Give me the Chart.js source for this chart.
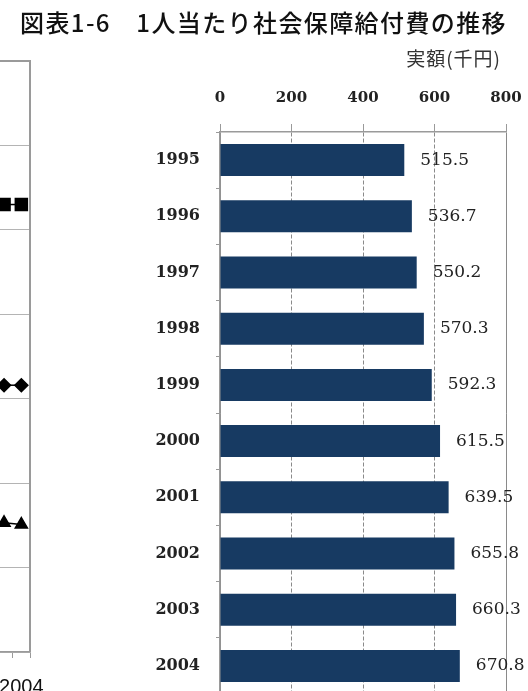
<!doctype html>
<html>

<head>
    <meta charset="utf-8">
    <title>1人当たり社会保障給付費の推移</title>
    <script src="https://cdn.jsdelivr.net/npm/chart.js"></script>
    <style>
        html,
        body {
            margin: 0;
            padding: 0;
            background: #ffffff;
            overflow: hidden;
            width: 528px;
            height: 691px;
        }

        .titulo {
            position: absolute;
            left: 20px;
            top: 7px;
            margin: 0;
            font-family: "Noto Sans CJK JP", sans-serif;
            font-size: 24px;
            font-weight: 500;
            line-height: 30px;
            letter-spacing: 1.4px;
            white-space: nowrap;
            color: #111111;
        }

        .unidade {
            position: absolute;
            right: 27px;
            top: 46px;
            margin: 0;
            font-family: "Noto Sans CJK JP", sans-serif;
            font-size: 19px;
            line-height: 24px;
            letter-spacing: 1px;
            color: #333333;
        }

        #graficoEsquerda {
            position: absolute;
            left: -143px;
            top: 0;
        }

        #graficoBarras {
            position: absolute;
            left: 0;
            top: 0;
        }
    </style>
</head>

<body>
    <canvas id="graficoEsquerda" width="213" height="700"></canvas>
    <canvas id="graficoBarras" width="528" height="700"></canvas>
    <h1 class="titulo">図表1-6　1人当たり社会保障給付費の推移</h1>
    <p class="unidade">実額(千円)</p>

    <script>
        // anos e valores (千円)
        var anos = ["1995", "1996", "1997", "1998", "1999", "2000", "2001", "2002", "2003", "2004"]
        var valores = [515.5, 536.7, 550.2, 570.3, 592.3, 615.5, 639.5, 655.8, 660.3, 670.8]
        var ticksX = [0, 200, 400, 600, 800]

        // grafico de linhas vizinho (so aparece a ponta direita)
        var serieQuadrado = [null, null, null, null, null, null, null, null, 106.0, 106.0]
        var serieLosango = [null, null, null, null, null, null, null, null, 63.2, 63.2]
        var serieTriangulo = [null, null, null, null, null, null, null, null, 30.6, 30.2]

        var cinza = '#9a9a9a'

        function semPadding(scale) {
            scale.paddingLeft = 0
            scale.paddingRight = 0
            scale.paddingTop = 0
            scale.paddingBottom = 0
        }

        // moldura da area do grafico (topo e lado direito)
        var moldura = {
            id: 'moldura',
            afterDraw(chart) {
                var a = chart.chartArea
                var ctx = chart.ctx
                ctx.save()
                ctx.strokeStyle = cinza
                ctx.lineWidth = 2
                ctx.beginPath()
                ctx.moveTo(a.left, a.top)
                ctx.lineTo(a.right, a.top)
                ctx.lineTo(a.right, a.bottom)
                ctx.stroke()
                ctx.restore()
            }
        }

        var graficoEsquerda = new Chart(document.getElementById('graficoEsquerda'), {
            type: 'line',
            data: {
                labels: anos,
                datasets: [{
                    data: serieQuadrado,
                    borderColor: '#000000',
                    backgroundColor: '#000000',
                    borderWidth: 1.5,
                    pointStyle: 'rect',
                    pointRadius: 8.5
                }, {
                    data: serieLosango,
                    borderColor: '#000000',
                    backgroundColor: '#000000',
                    borderWidth: 1.5,
                    pointStyle: 'rectRot',
                    pointRadius: 6.5
                }, {
                    data: serieTriangulo,
                    borderColor: '#000000',
                    backgroundColor: '#000000',
                    borderWidth: 1.5,
                    pointStyle: 'triangle',
                    pointRadius: 7
                }]
            },
            options: {
                responsive: false,
                animation: false,
                layout: {
                    autoPadding: false,
                    padding: { top: 61, bottom: 8, left: 0, right: 40 }
                },
                plugins: {
                    legend: { display: false },
                    tooltip: { enabled: false }
                },
                scales: {
                    x: {
                        offset: true,
                        grid: {
                            offset: true,
                            drawOnChartArea: false,
                            tickLength: 6,
                            tickColor: cinza
                        },
                        border: { color: cinza, width: 1.5 },
                        ticks: {
                            autoSkip: false,
                            maxRotation: 0,
                            padding: 17,
                            color: '#111111',
                            font: { family: 'Liberation Sans', size: 20 },
                            callback: function (v, i) {
                                return i % 3 === 0 ? anos[i] : ''
                            }
                        },
                        afterFit: function (scale) {
                            semPadding(scale)
                            scale.height = 40
                        }
                    },
                    y: {
                        min: 0,
                        max: 140,
                        ticks: { display: false, stepSize: 20 },
                        grid: { color: '#b4b4b4', lineWidth: 1, drawTicks: false },
                        border: { display: false },
                        afterFit: function (scale) {
                            semPadding(scale)
                            scale.width = 0
                        }
                    }
                }
            },
            plugins: [moldura]
        });

        // rotulo com o valor ao lado de cada barra
        var rotulosValor = {
            id: 'rotulosValor',
            afterDatasetsDraw(chart) {
                var ctx = chart.ctx
                var meta = chart.getDatasetMeta(0)
                ctx.save()
                ctx.font = '17px "DejaVu Serif"'
                ctx.fillStyle = '#222222'
                ctx.textAlign = 'left'
                ctx.textBaseline = 'middle'
                meta.data.forEach(function (barra, i) {
                    ctx.fillText(valores[i].toFixed(1), barra.x + 16, barra.y)
                })
                ctx.restore()
            }
        }

        var graficoBarras = new Chart(document.getElementById('graficoBarras'), {
            type: 'bar',
            data: {
                labels: anos,
                datasets: [{
                    label: '実額(千円)',
                    data: valores,
                    backgroundColor: '#173a62',
                    borderWidth: 0,
                    categoryPercentage: 1,
                    barPercentage: 0.57
                }]
            },
            options: {
                indexAxis: 'y',
                responsive: false,
                animation: false,
                layout: {
                    autoPadding: false,
                    padding: { top: 72, bottom: 6, left: 0, right: 22 }
                },
                plugins: {
                    legend: { display: false },
                    tooltip: { enabled: false }
                },
                scales: {
                    x: {
                        position: 'top',
                        min: 0,
                        max: 800,
                        afterBuildTicks: function (scale) {
                            scale.ticks = ticksX.map(function (v) { return { value: v } })
                        },
                        ticks: {
                            padding: 17,
                            color: '#222222',
                            font: { family: 'DejaVu Serif', size: 15, weight: 'bold' }
                        },
                        grid: {
                            color: '#8a8a8a',
                            lineWidth: 1,
                            tickLength: 8,
                            tickColor: cinza
                        },
                        border: {
                            color: cinza,
                            width: 1.5,
                            dash: function (ctx) {
                                if (ctx.tick && ctx.tick.value > 0 && ctx.tick.value < 800) return [4, 2]
                                return []
                            }
                        },
                        afterFit: function (scale) {
                            semPadding(scale)
                            scale.height = 60
                        }
                    },
                    y: {
                        grid: {
                            drawOnChartArea: false,
                            tickLength: 4,
                            tickColor: cinza
                        },
                        border: { color: cinza, width: 1.5 },
                        ticks: {
                            padding: 16,
                            color: '#222222',
                            font: { family: 'DejaVu Serif', size: 16, weight: 'bold' }
                        },
                        afterFit: function (scale) {
                            semPadding(scale)
                            scale.width = 220
                        }
                    }
                }
            },
            plugins: [rotulosValor]
        });
    </script>
</body>

</html>
